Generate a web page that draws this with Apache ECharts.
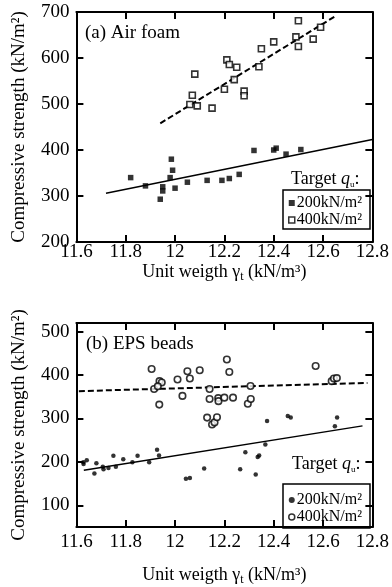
<!DOCTYPE html>
<html>
<head>
<meta charset="utf-8">
<script src="https://cdn.jsdelivr.net/npm/echarts@6/dist/echarts.min.js"></script>
<style>
  html, body { margin: 0; padding: 0; background: #fff; }
  #chart { width: 392px; height: 587px; }
</style>
</head>
<body>
<div id="chart"></div>
<script>
const FONT = '"Liberation Serif", "DejaVu Serif", serif'

// (a) Air foam: [unit weight, compressive strength]
const airFoam200 = [
  [11.82, 340], [11.88, 322], [11.94, 293], [11.95, 320], [11.95, 311], [11.985, 380],
  [11.99, 356], [11.98, 340], [12.00, 317], [12.05, 330], [12.13, 334], [12.19, 334],
  [12.22, 338], [12.26, 347], [12.32, 399], [12.40, 400], [12.41, 404], [12.45, 391], [12.51, 401],
]
const airFoam400 = [
  [12.08, 565], [12.07, 519], [12.06, 499], [12.09, 496], [12.15, 491], [12.20, 532],
  [12.21, 596], [12.22, 586], [12.24, 553], [12.25, 580], [12.28, 528], [12.28, 518],
  [12.34, 581], [12.35, 620], [12.40, 635], [12.49, 646], [12.50, 625], [12.50, 681],
  [12.56, 641], [12.59, 667],
]
const airFit200 = [[11.72, 306], [12.8, 423]]
const airFit400 = [[11.94, 458], [12.65, 691]]

// (b) EPS beads
const eps200 = [
  [11.629, 195], [11.628, 199], [11.642, 204], [11.673, 173], [11.681, 197], [11.707, 189],
  [11.71, 183], [11.73, 186], [11.75, 214], [11.76, 189], [11.79, 206], [11.827, 199],
  [11.848, 214], [11.895, 199], [11.927, 228], [11.935, 215], [12.044, 161], [12.06, 163],
  [12.118, 185], [12.264, 183], [12.285, 222], [12.327, 171], [12.335, 211], [12.341, 215],
  [12.366, 240], [12.373, 294], [12.457, 306], [12.469, 302], [12.648, 282], [12.657, 302],
]
const eps400 = [
  [11.905, 414], [11.915, 368], [11.937, 386], [11.946, 383], [11.93, 374], [11.936, 332],
  [12.01, 390], [12.03, 352], [12.05, 409], [12.06, 392], [12.10, 411], [12.13, 302],
  [12.14, 368], [12.14, 345], [12.15, 286], [12.16, 291], [12.17, 303], [12.175, 347],
  [12.176, 340], [12.20, 348], [12.21, 436], [12.22, 407], [12.235, 348], [12.295, 334],
  [12.306, 375], [12.307, 345], [12.57, 421], [12.635, 386], [12.644, 392], [12.656, 393],
]
const epsFit200 = [[11.63, 181], [12.76, 283]]
const epsFit400 = [[11.61, 363], [12.78, 382]]

const xTicks = [11.6, 11.8, 12, 12.2, 12.4, 12.6, 12.8]
const yTicksA = [200, 300, 400, 500, 600, 700]
const yTicksB = [100, 200, 300, 400, 500]
const NAME_200 = '200kN/m²'
const NAME_400 = '400kN/m²'

const line = { lineStyle: { color: '#000', width: 2 } }
const tick = { inside: true, length: 7, lineStyle: { color: '#000', width: 2 } }
const labelStyle = { fontFamily: FONT, fontSize: 19, color: '#000' }

function xAxes(gridIndex, margin, nameGap) {
  const base = { type: 'value', gridIndex, min: 11.6, max: 12.8, splitLine: { show: false }, axisLine: line }
  return [
    {
      ...base, position: 'bottom',
      axisTick: { ...tick, customValues: xTicks },
      axisLabel: { ...labelStyle, margin, customValues: xTicks },
      name: '{t|Unit weigth γ}{s|t}{t| (kN/m³)}', nameLocation: 'middle', nameGap,
      nameTextStyle: {
        rich: {
          t: { fontFamily: FONT, fontSize: 18, color: '#000', lineHeight: 22 },
          s: { fontFamily: FONT, fontSize: 12, color: '#000', lineHeight: 22, verticalAlign: 'bottom' },
        },
      },
    },
    { ...base, position: 'top', axisTick: { ...tick, customValues: xTicks }, axisLabel: { show: false } },
  ]
}

function yAxes(gridIndex, min, max, ticks) {
  const base = { type: 'value', gridIndex, min, max, splitLine: { show: false }, axisLine: line }
  return [
    {
      ...base, position: 'left',
      axisTick: { ...tick, customValues: ticks },
      axisLabel: { ...labelStyle, margin: 7, customValues: ticks },
      name: 'Compressive strength (kN/m²)', nameLocation: 'middle', nameGap: 44,
      nameTextStyle: { fontFamily: FONT, fontSize: 19, color: '#000', lineHeight: 22 },
    },
    { ...base, position: 'right', axisTick: { ...tick, customValues: ticks }, axisLabel: { show: false } },
  ]
}

function fit(data, idx, dashed) {
  return {
    type: 'line', name: 'fit', data, xAxisIndex: idx, yAxisIndex: idx, symbol: 'none', z: 1,
    lineStyle: { color: '#000', width: dashed ? 2 : 1.5, type: dashed ? [6, 3] : 'solid' },
  }
}

function scatter(name, data, idx, symbol, size, open) {
  return {
    type: 'scatter', name, data, xAxisIndex: idx, yAxisIndex: idx, symbol, symbolSize: size, z: 3,
    itemStyle: open
      ? { color: '#fff', borderColor: '#000', borderWidth: 1.6 }
      : { color: '#000' },
  }
}

const textStyle = { fontFamily: FONT, fontSize: 19, color: '#000', fontWeight: 'normal', lineHeight: 20 }
const targetRich = {
  t: { fontFamily: FONT, fontSize: 18, color: '#000', fontWeight: 'normal', lineHeight: 20 },
  q: { fontFamily: FONT, fontSize: 18, color: '#000', fontWeight: 'normal', fontStyle: 'italic', lineHeight: 20 },
  s: { fontFamily: FONT, fontSize: 9, color: '#000', fontWeight: 'normal', lineHeight: 20, verticalAlign: 'bottom' },
}
const targetText = '{t|Target }{q|q}{s|u}{t|:}'

function legend(top, icon, size, padding) {
  return {
    orient: 'vertical', left: 283, top, padding, itemGap: 1,
    itemWidth: size, itemHeight: size, selectedMode: false,
    borderColor: '#000', borderWidth: 1.5,
    textStyle: { fontFamily: FONT, fontSize: 16, color: '#000', lineHeight: 16, padding: [0, 0, 0, -3] },
    data: [
      { name: NAME_200, icon, itemStyle: { color: '#000', borderWidth: 0 } },
      { name: NAME_400, icon, itemStyle: { color: '#fff', borderColor: '#000', borderWidth: 1.5 } },
    ],
  }
}

const chart = echarts.init(document.getElementById('chart'), null, { renderer: 'canvas' })
chart.setOption({
  animation: false,
  backgroundColor: '#fff',
  title: [
    { text: '(a) Air foam', left: 85, top: 23, padding: 0, textStyle },
    { text: '(b) EPS beads', left: 86, top: 334, padding: 0, textStyle },
    { text: targetText, left: 291, top: 169, padding: 0, textStyle: { fontWeight: 'normal', rich: targetRich } },
    { text: targetText, left: 292, top: 454, padding: 0, textStyle: { fontWeight: 'normal', rich: targetRich } },
  ],
  grid: [
    { left: 72, top: 12, width: 306, height: 230 },
    { left: 72, top: 323, width: 306, height: 207 },
  ],
  xAxis: [...xAxes(0, 1, 12), ...xAxes(1, 6, 37)],
  yAxis: [...yAxes(0, 200, 700, yTicksA), ...yAxes(1, 50, 520, yTicksB)],
  legend: [
    legend(190, 'rect', 6, [5, 8, 1, 5]),
    legend(484, 'circle', 6, [8, 8, 3, 5]),
  ],
  series: [
    fit(airFit200, 0, false),
    fit(airFit400, 0, true),
    scatter(NAME_200, airFoam200, 0, 'rect', 5.5, false),
    scatter(NAME_400, airFoam400, 0, 'rect', 6, true),
    fit(epsFit200, 2, false),
    fit(epsFit400, 2, true),
    scatter(NAME_200, eps200, 2, 'circle', 4.5, false),
    scatter(NAME_400, eps400, 2, 'circle', 6.5, true),
  ],
})
</script>
</body>
</html>
